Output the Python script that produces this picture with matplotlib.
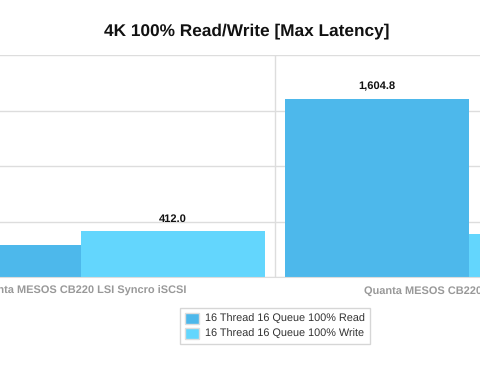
import numpy as np
import matplotlib.pyplot as plt

plt.rcParams["font.family"] = ["Liberation Sans", "DejaVu Sans"]
plt.rcParams["text.hinting"] = "no_hinting"

categories = [
    "Quanta MESOS CB220 LSI Syncro iSCSI",
    "Quanta MESOS CB220 LSI Syncro FCoE",
]
read_latency = [291.0, 1604.8]
write_latency = [412.0, 384.0]
series_labels = ["16 Thread 16 Queue 100% Read", "16 Thread 16 Queue 100% Write"]
colors = ["#4DB8EB", "#63D6FD"]
yticks = [0, 500, 1000, 1500, 2000]

fig = plt.figure(figsize=(4.8, 3.76), dpi=100)
ax = fig.add_axes([0.0, 0.2633, 1.0, 0.5904])

x = np.arange(len(categories))
width = 0.474
bars_r = ax.bar(x - width / 2, read_latency, width, color=colors[0], label=series_labels[0], zorder=2)
bars_w = ax.bar(x + width / 2, write_latency, width, color=colors[1], label=series_labels[1], zorder=2)

for rects, vals in [(bars_r, read_latency), (bars_w, write_latency)]:
    for r, v in zip(rects, vals):
        ax.annotate(
            f"{v:,.1f}",
            xy=(r.get_x() + r.get_width() / 2, v),
            xytext=(0, 5),
            textcoords="offset points",
            ha="center",
            va="bottom",
            fontsize=8,
            fontweight="bold",
            color="#111111",
        )

ax.set_xlim(-0.2088, 1.0283)
ax.set_ylim(0, 2000)
ax.set_yticks(yticks)
ax.yaxis.grid(True, color="#dddddd", linewidth=1, zorder=0)
ax.axvline(0.5, color="#dddddd", linewidth=1, zorder=0)
ax.tick_params(left=False, labelleft=False, bottom=False, pad=3)
ax.set_xticks(x)
ax.set_xticklabels(categories, fontsize=7.9, fontweight="bold", color="#999999")
for s in ["left", "right", "top"]:
    ax.spines[s].set_visible(False)
ax.spines["bottom"].set_color("#dddddd")

fig.text(0.515, 0.918, "4K 100% Read/Write [Max Latency]", ha="center", va="center",
         fontsize=12.4, fontweight="bold", color="#111111")

leg = fig.legend(loc="center", bbox_to_anchor=(0.573, 0.133), fontsize=7.8,
                 frameon=True, fancybox=False, handlelength=1.3, handleheight=1.2,
                 handletextpad=0.5, borderpad=0.45, labelspacing=0.35)
leg.get_frame().set_edgecolor("#cccccc")
leg.get_frame().set_linewidth(1)
for t in leg.get_texts():
    t.set_color("#333333")
for h in leg.legend_handles:
    h.set_edgecolor("#dddddd")
    h.set_linewidth(1)

fig.savefig("out.png", dpi=100)
